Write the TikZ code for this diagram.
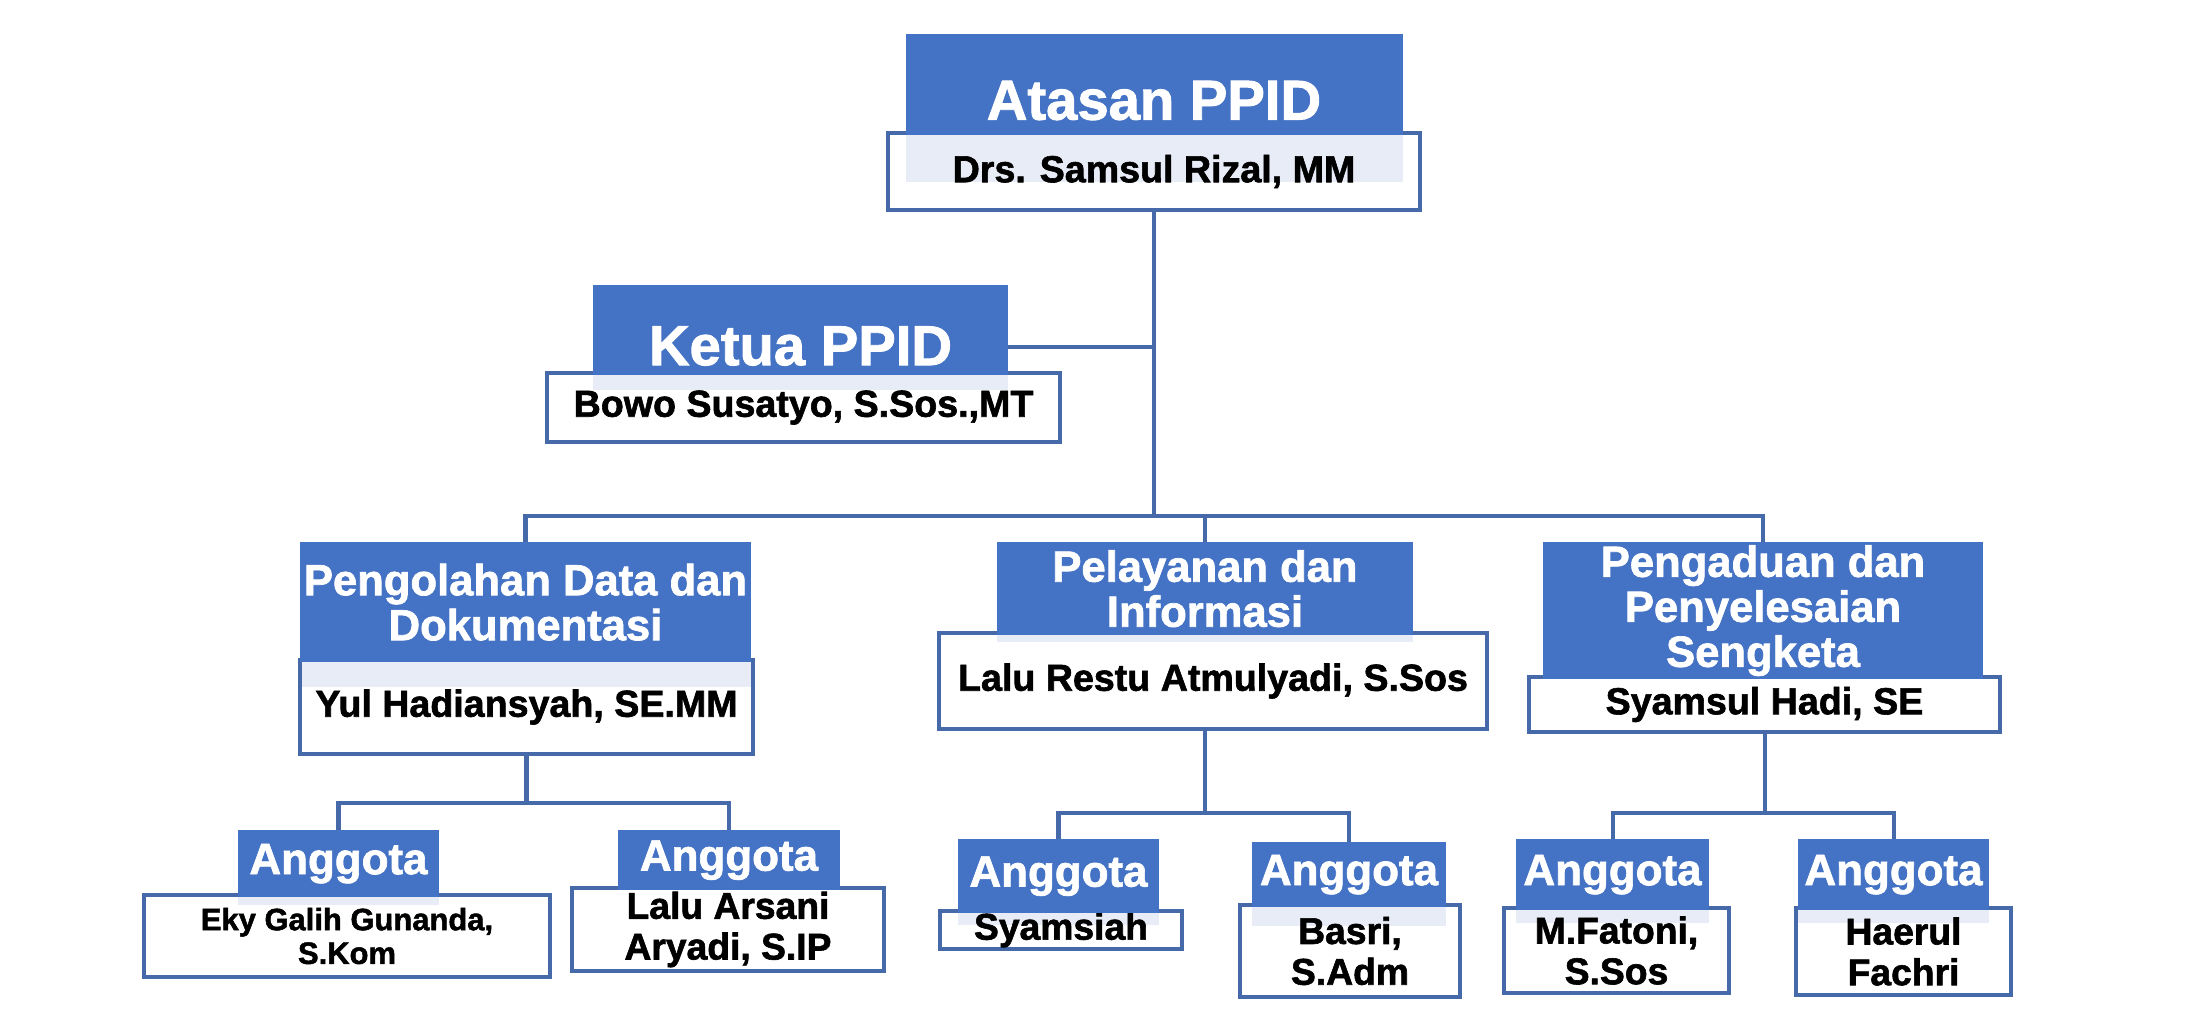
\documentclass[tikz,border=0pt]{standalone}
\usepackage{fontspec}
\setmainfont{Liberation Sans}[BoldFeatures={FakeBold=1.6}]
\usepackage{xcolor}
\definecolor{ppidblue}{RGB}{68,114,196}
\definecolor{ppidline}{RGB}{70,105,170}
\definecolor{ppidstrip}{RGB}{232,236,246}
\usepackage{tikz}
\usetikzlibrary{positioning}
\pgfdeclarelayer{background}
\pgfsetlayers{background,main}

\tikzset{
  boxsize/.style 2 args={minimum width=#1cm, minimum height=#2cm},
  headbox/.style={fill=ppidblue, text=white, inner sep=0pt, outer sep=0pt, align=center},
  namebox/.style={draw=ppidline, line width=1.15pt, inner sep=0pt, outer sep=0pt, align=center},
  toptitle/.style={font=\fontsize{16}{18}\selectfont\bfseries, text height=0.70cm, text depth=0pt},
  midtitle/.style={font=\fontsize{12.4}{12.8}\selectfont\bfseries},
  anggota/.style={font=\fontsize{12.5}{14}\selectfont\bfseries},
  personname/.style={font=\fontsize{10.7}{12}\selectfont\bfseries},
  membername/.style={font=\fontsize{10.6}{11.6}\selectfont\bfseries},
  link/.style={draw=ppidline, line width=1.15pt},
}

\begin{document}
\begin{tikzpicture}
  \useasboundingbox (0,0) rectangle (22,-10.18);

  % name boxes
  \node[namebox, boxsize={5.32}{0.77}, personname] (atasanW) at (11.54,-1.715) {Drs. Samsul Rizal, MM};
  \node[namebox, boxsize={5.13}{0.69}, personname] (ketuaW) at (8.035,-4.075) {Bowo Susatyo, S.Sos.,MT};
  \node[namebox, boxsize={4.53}{0.94}, personname] (pengolahanW) at (5.265,-7.07) {Yul Hadiansyah, SE.MM};
  \node[namebox, boxsize={5.48}{0.96}, personname] (pelayananW) at (12.13,-6.81) {Lalu Restu Atmulyadi, S.Sos};
  \node[namebox, boxsize={4.71}{0.55}, personname] (pengaduanW) at (17.645,-7.045) {Syamsul Hadi, SE};
  \node[namebox, boxsize={4.06}{0.82}, font=\fontsize{8.8}{9.6}\selectfont\bfseries] (a1W) at (3.47,-9.36) {Eky Galih Gunanda,\\S.Kom};
  \node[namebox, boxsize={3.12}{0.83}, membername] (a2W) at (7.28,-9.295) {Lalu Arsani\\Aryadi, S.IP};
  \node[namebox, boxsize={2.42}{0.38}, membername] (a3W) at (10.61,-9.30) {Syamsiah};
  \node[namebox, boxsize={2.20}{0.92}, membername] (a4W) at (13.50,-9.51) {Basri,\\S.Adm};
  \node[namebox, boxsize={2.25}{0.85}, membername] (a5W) at (16.165,-9.505) {M.Fatoni,\\S.Sos};
  \node[namebox, boxsize={2.15}{0.87}, membername] (a6W) at (19.035,-9.515) {Haerul\\Fachri};

  % title boxes
  \node[headbox, boxsize={4.97}{1.01}, toptitle, above=-0.6pt of atasanW] (atasanB) {Atasan PPID};
  \node[headbox, boxsize={4.15}{0.90}, toptitle, above=-0.6pt of ketuaW, xshift=-0.03cm] (ketuaB) {Ketua PPID};
  \node[headbox, boxsize={4.51}{1.20}, midtitle, above=-0.6pt of pengolahanW, xshift=-0.01cm] (pengolahanB) {Pengolahan Data dan\\Dokumentasi};
  \node[headbox, boxsize={4.16}{0.93}, midtitle, above=-0.6pt of pelayananW, xshift=-0.08cm] (pelayananB) {Pelayanan dan\\Informasi};
  \node[headbox, boxsize={4.40}{1.37}, midtitle, above=-0.6pt of pengaduanW, xshift=-0.015cm] (pengaduanB) {Pengaduan dan\\Penyelesaian\\Sengketa};
  \node[headbox, boxsize={2.01}{0.67}, anggota, above=-0.6pt of a1W, xshift=-0.085cm] (a1B) {Anggota};
  \node[headbox, boxsize={2.22}{0.60}, anggota, above=-0.6pt of a2W, xshift=0.01cm] (a2B) {Anggota};
  \node[headbox, boxsize={2.01}{0.74}, anggota, above=-0.6pt of a3W, xshift=-0.025cm] (a3B) {Anggota};
  \node[headbox, boxsize={1.94}{0.65}, anggota, above=-0.6pt of a4W, xshift=-0.01cm] (a4B) {Anggota};
  \node[headbox, boxsize={1.93}{0.71}, anggota, above=-0.6pt of a5W, xshift=-0.04cm] (a5B) {Anggota};
  \node[headbox, boxsize={1.91}{0.71}, anggota, above=-0.6pt of a6W, xshift=-0.10cm] (a6B) {Anggota};

  % pale band under each title box
  \begin{pgfonlayer}{background}
    \foreach \nm/\h in {atasan/0.47, ketua/0.15, pengolahan/0.25, pelayanan/0.07, a1/0.08, a3/0.12, a4/0.19, a5/0.13, a6/0.13}
      \fill[ppidstrip] (\nm B.south west) rectangle ([yshift=-\h cm]\nm B.south east);
  \end{pgfonlayer}

  % connectors
  \coordinate (bus) at (0,-5.16);
  \coordinate (subL) at (0,-8.03);
  \coordinate (subR) at (0,-8.13);
  \draw[link] (atasanW.south) -- (atasanW.south |- bus);
  \draw[link] ([yshift=-0.17cm]ketuaB.east) -- ([yshift=-0.17cm]ketuaB.east -| atasanW.south);
  \draw[link] (pengolahanB.north) -- (pengolahanB.north |- bus) -| (pengaduanB.north);
  \draw[link] (pelayananB.north) -- (pelayananB.north |- bus);
  \draw[link] (pengolahanW.south) -- (pengolahanW.south |- subL);
  \draw[link] (a1B.north) -- (a1B.north |- subL) -| (a2B.north);
  \draw[link] (pelayananB.south |- pelayananW.south) -- (pelayananB.south |- subR);
  \draw[link] (a3B.north) -- (a3B.north |- subR) -| (a4B.north);
  \draw[link] (pengaduanW.south) -- (pengaduanW.south |- subR);
  \draw[link] (a5B.north) -- (a5B.north |- subR) -| (a6B.north);
\end{tikzpicture}
\end{document}
